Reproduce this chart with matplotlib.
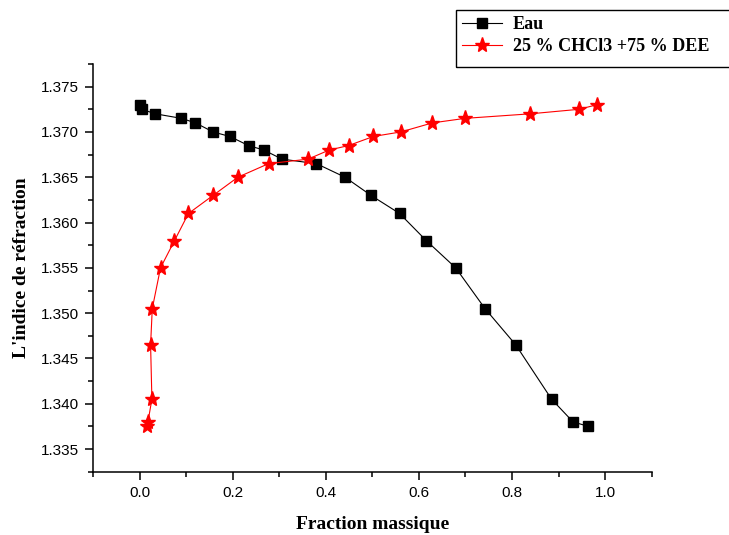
import matplotlib
matplotlib.use("Agg")
import matplotlib.pyplot as plt
from matplotlib.ticker import MultipleLocator, FormatStrFormatter
from matplotlib.patches import Rectangle

# Eau (squares)
x_eau = [0.0015, 0.005, 0.034, 0.090, 0.120, 0.158, 0.194, 0.234, 0.267, 0.306,
         0.380, 0.4415, 0.497, 0.5585, 0.616, 0.679, 0.742, 0.808, 0.885, 0.931, 0.964]
y_eau = [1.3730, 1.3725, 1.3720, 1.3715, 1.3710, 1.3700, 1.3695, 1.3685, 1.3680, 1.3670,
         1.3665, 1.3650, 1.3630, 1.3610, 1.3580, 1.3550, 1.3505, 1.3465, 1.3405, 1.3380, 1.3375]

# 25 % CHCl3 + 75 % DEE (stars)
x_mix = [0.0157, 0.018, 0.0265, 0.0237, 0.0273, 0.045, 0.075, 0.105, 0.158, 0.211,
         0.277, 0.362, 0.407, 0.449, 0.502, 0.561, 0.629, 0.699, 0.839, 0.944, 0.982]
y_mix = [1.3375, 1.3380, 1.3405, 1.3465, 1.3505, 1.3550, 1.3580, 1.3610, 1.3630, 1.3650,
         1.3665, 1.3670, 1.3680, 1.3685, 1.3695, 1.3700, 1.3710, 1.3715, 1.3720, 1.3725, 1.3730]

labels = ["Eau", "25 % CHCl3 +75 % DEE"]

W, H = 729, 535
fig = plt.figure(figsize=(W / 100, H / 100), dpi=100)
ax = fig.add_axes([93 / W, 1 - 471.7 / H, (651.7 - 93) / W, (471.7 - 64) / H])

ax.plot(x_eau, y_eau, color="black", lw=0.8, marker="s", ms=7,
        mfc="black", mec="black", label=labels[0])
ax.plot(x_mix, y_mix, color="red", lw=0.8, marker="*", ms=11,
        mfc="red", mec="red", label=labels[1])

ax.set_xlim(-0.1, 1.1)
ax.set_ylim(1.3325, 1.3775)
ax.xaxis.set_major_locator(MultipleLocator(0.2))
ax.xaxis.set_minor_locator(MultipleLocator(0.1))
ax.yaxis.set_major_locator(MultipleLocator(0.005))
ax.yaxis.set_minor_locator(MultipleLocator(0.0025))
ax.xaxis.set_major_formatter(FormatStrFormatter("%.1f"))
ax.yaxis.set_major_formatter(FormatStrFormatter("%.3f"))

for s in ["top", "right"]:
    ax.spines[s].set_visible(False)
for s in ["left", "bottom"]:
    ax.spines[s].set_linewidth(1.1)

ax.tick_params(which="major", direction="out", length=6, width=1.1,
               labelsize=11, pad=4)
ax.tick_params(which="minor", direction="out", length=3.3, width=1.1)
for lab in ax.get_xticklabels() + ax.get_yticklabels():
    lab.set_fontfamily("Liberation Sans")

serif = {"family": "Liberation Serif", "weight": "bold", "size": 14}
ax.set_xlabel("Fraction massique", fontdict=serif, labelpad=12)
ax.set_ylabel("L'indice de réfraction", fontdict=serif, labelpad=8)

leg = fig.legend(loc="upper left", bbox_to_anchor=(462 / W, 1 - 16 / H),
                 frameon=False, borderpad=0, borderaxespad=0,
                 handlelength=2.2, handletextpad=0.6, labelspacing=0.3,
                 prop={"family": "Liberation Serif", "weight": "bold", "size": 13})
fig.patches.append(Rectangle((456 / W, 1 - 67 / H), 0.5, 57 / H,
                             transform=fig.transFigure, fill=False,
                             ec="black", lw=1.0))

fig.savefig("out.png", dpi=100)
